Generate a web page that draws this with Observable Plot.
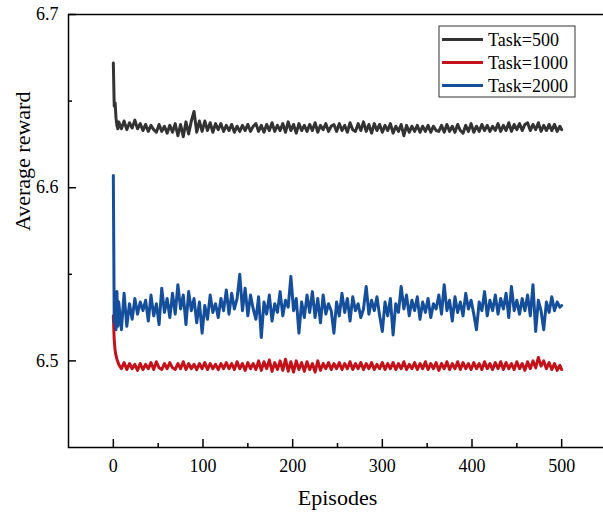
<!DOCTYPE html>
<html>
<head>
<meta charset="utf-8">
<script src="https://cdn.jsdelivr.net/npm/d3@7"></script>
<script src="https://cdn.jsdelivr.net/npm/@observablehq/plot@0.6"></script>
<style>
  html, body { margin: 0; padding: 0; background: #fff; overflow: hidden; }
  #chart svg { max-width: none !important; }
</style>
</head>
<body>
<div id="chart"></div>
<script>
// Training episodes at which the average reward was logged
const episodes = [0,1,2,3,4,5,6,
  9,12,15,18,21,24,27,30,33,36,39,42,45,48,51,54,57,60,63,66,69,72,75,78,81,84,87,90,93,96,
  99,102,105,108,111,114,117,120,123,126,129,132,135,138,141,144,147,150,153,156,159,162,165,168,
  171,174,177,180,183,186,189,192,195,198,201,204,207,210,213,216,219,222,225,228,231,234,237,240,
  243,246,249,252,255,258,261,264,267,270,273,276,279,282,285,288,291,294,297,300,303,306,309,312,
  315,318,321,324,327,330,333,336,339,342,345,348,351,354,357,360,363,366,369,372,375,378,381,384,
  387,390,393,396,399,402,405,408,411,414,417,420,423,426,429,432,435,438,441,444,447,450,453,456,
  459,462,465,468,471,474,477,480,483,486,489,492,495,498,500];

// Average reward per series
const task500 = [6.672,6.647,6.649,6.640,6.636,6.634,6.638,
  6.6340,6.6385,6.6335,6.6375,6.6345,6.6390,6.6340,6.6370,6.6330,6.6365,
  6.6325,6.6360,6.6335,6.6320,6.6365,6.6325,6.6355,6.6315,6.6360,6.6320,
  6.6370,6.6300,6.6365,6.6295,6.6380,6.6310,6.6385,6.6440,6.6320,6.6385,
  6.6325,6.6385,6.6330,6.6375,6.6320,6.6370,6.6335,6.6370,6.6325,6.6360,
  6.6330,6.6365,6.6320,6.6355,6.6325,6.6360,6.6330,6.6365,6.6325,6.6355,
  6.6370,6.6325,6.6360,6.6320,6.6365,6.6330,6.6375,6.6325,6.6360,6.6330,
  6.6370,6.6320,6.6380,6.6330,6.6365,6.6315,6.6370,6.6330,6.6360,6.6325,
  6.6365,6.6330,6.6375,6.6320,6.6360,6.6335,6.6370,6.6325,6.6355,6.6365,
  6.6325,6.6370,6.6330,6.6360,6.6320,6.6375,6.6335,6.6325,6.6370,6.6330,
  6.6380,6.6325,6.6365,6.6315,6.6370,6.6330,6.6365,6.6320,6.6360,6.6330,
  6.6370,6.6315,6.6355,6.6325,6.6365,6.6300,6.6360,6.6320,6.6355,6.6325,
  6.6360,6.6320,6.6355,6.6325,6.6360,6.6320,6.6355,6.6330,6.6325,6.6360,
  6.6320,6.6365,6.6325,6.6355,6.6320,6.6365,6.6330,6.6315,6.6360,6.6325,
  6.6370,6.6320,6.6355,6.6325,6.6365,6.6330,6.6360,6.6325,6.6355,6.6330,
  6.6370,6.6325,6.6360,6.6330,6.6375,6.6325,6.6365,6.6335,6.6370,6.6330,
  6.6365,6.6375,6.6330,6.6365,6.6335,6.6375,6.6325,6.6360,6.6330,6.6365,
  6.6330,6.6365,6.6325,6.6355,6.6335];

const task1000 = [6.526,6.512,6.506,6.503,6.501,6.4995,6.498,
  6.4955,6.4990,6.4950,6.4985,6.4955,6.4980,6.4945,6.4985,6.4950,6.4980,
  6.4955,6.4990,6.4950,6.4995,6.4960,6.4950,6.4985,6.4955,6.4990,6.4960,
  6.4950,6.4985,6.4955,6.4995,6.4950,6.4985,6.4955,6.4980,6.4950,6.4985,
  6.4955,6.4990,6.4950,6.4985,6.4955,6.4980,6.4950,6.4985,6.4955,6.4990,
  6.4955,6.4985,6.4950,6.4995,6.4955,6.4985,6.4945,6.4990,6.4955,6.4985,
  6.4950,6.5000,6.4945,6.4995,6.4955,6.5005,6.4940,6.4990,6.4950,6.5000,
  6.4945,6.5010,6.4940,6.4995,6.4935,6.5000,6.4950,6.4990,6.4940,6.4995,
  6.4950,6.4985,6.4935,6.5000,6.4945,6.4985,6.4955,6.4990,6.4950,6.4985,
  6.4955,6.4990,6.4950,6.4985,6.4955,6.4995,6.4950,6.4985,6.4955,6.4990,
  6.4950,6.4985,6.4955,6.4990,6.4950,6.4980,6.4955,6.4990,6.4950,6.4985,
  6.4955,6.4990,6.4950,6.4985,6.4955,6.4995,6.4950,6.4980,6.4955,6.4990,
  6.4950,6.4985,6.4955,6.4995,6.4950,6.4985,6.4955,6.4990,6.4945,6.4985,
  6.4955,6.4995,6.4950,6.4985,6.4955,6.4995,6.4950,6.4990,6.4955,6.4985,
  6.4950,6.4990,6.4955,6.4985,6.4950,6.4995,6.4955,6.4985,6.4950,6.4990,
  6.4955,6.4995,6.4950,6.4990,6.4955,6.4985,6.4950,6.4995,6.4955,6.4985,
  6.4945,6.4995,6.4955,6.5000,6.4960,6.5020,6.4970,6.5000,6.4955,6.4990,
  6.4950,6.4985,6.4945,6.4975,6.4950];

const task2000 = [6.607,6.522,6.538,6.518,6.540,6.520,6.534,
  6.5180,6.5390,6.5200,6.5330,6.5240,6.5360,6.5270,6.5340,6.5290,6.5350,
  6.5230,6.5380,6.5260,6.5330,6.5210,6.5420,6.5280,6.5360,6.5250,6.5390,
  6.5270,6.5440,6.5300,6.5380,6.5210,6.5400,6.5290,6.5360,6.5220,6.5340,
  6.5160,6.5320,6.5240,6.5380,6.5280,6.5330,6.5250,6.5360,6.5290,6.5410,
  6.5270,6.5390,6.5300,6.5360,6.5500,6.5290,6.5420,6.5260,6.5380,6.5300,
  6.5240,6.5370,6.5135,6.5340,6.5270,6.5380,6.5230,6.5330,6.5280,6.5400,
  6.5260,6.5350,6.5310,6.5488,6.5290,6.5360,6.5160,6.5340,6.5250,6.5380,
  6.5280,6.5400,6.5250,6.5360,6.5220,6.5380,6.5270,6.5330,6.5290,6.5160,
  6.5340,6.5260,6.5390,6.5280,6.5360,6.5230,6.5370,6.5290,6.5330,6.5250,
  6.5300,6.5430,6.5270,6.5350,6.5290,6.5370,6.5260,6.5170,6.5340,6.5260,
  6.5360,6.5150,6.5330,6.5280,6.5430,6.5300,6.5380,6.5260,6.5350,6.5290,
  6.5370,6.5240,6.5340,6.5280,6.5360,6.5250,6.5330,6.5300,6.5380,6.5270,
  6.5440,6.5290,6.5350,6.5230,6.5370,6.5280,6.5340,6.5260,6.5390,6.5300,
  6.5350,6.5270,6.5180,6.5340,6.5290,6.5400,6.5260,6.5350,6.5290,6.5380,
  6.5270,6.5360,6.5300,6.5390,6.5250,6.5430,6.5290,6.5350,6.5270,6.5360,
  6.5290,6.5380,6.5260,6.5440,6.5170,6.5350,6.5290,6.5180,6.5340,6.5280,
  6.5370,6.5290,6.5340,6.5310,6.5320];

const seriesNames = ["Task=500", "Task=1000", "Task=2000"];
const seriesColors = ["#333333", "#c3121a", "#154f9c"];

// Axis ticks
const xMajor = [0, 100, 200, 300, 400, 500];
const xMinor = [50, 150, 250, 350, 450];
const yMajor = [6.5, 6.6, 6.7];
const yMinor = [6.55, 6.65];

// Long-format table for the line mark
const rows = [];
[task500, task1000, task2000].forEach((vals, s) => {
  vals.forEach((v, i) => rows.push({episode: episodes[i], reward: v, task: seriesNames[s]}));
});

const W = 610, H = 514;
const mL = 68, mT = 14, mR = 4, mB = 67;
const innerW = W - mL - mR, innerH = H - mT - mB;
const font = "'Liberation Serif', 'Times New Roman', serif";

const chart = Plot.plot({
  width: W,
  height: H,
  marginLeft: mL,
  marginTop: mT,
  marginRight: mR,
  marginBottom: mB,
  style: {fontFamily: font, fontSize: "18px", color: "#000", background: "#fff", overflow: "visible", maxWidth: "none"},
  x: {domain: [-50, 550]},
  y: {domain: [6.45, 6.7]},
  color: {domain: seriesNames, range: seriesColors},
  marks: [
    Plot.line(rows, {x: "episode", y: "reward", z: "task", stroke: "task", strokeWidth: 3, strokeLinejoin: "round"}),
    // inward ticks
    Plot.tickX(xMajor, {x: d => d, insetTop: innerH - 8, stroke: "#000", strokeWidth: 1.5}),
    Plot.tickX(xMinor, {x: d => d, insetTop: innerH - 4, stroke: "#000", strokeWidth: 1.5}),
    Plot.tickY(yMajor, {y: d => d, insetRight: innerW - 8, stroke: "#000", strokeWidth: 1.5}),
    Plot.tickY(yMinor, {y: d => d, insetRight: innerW - 4, stroke: "#000", strokeWidth: 1.5}),
    Plot.axisX(xMajor, {tickSize: 0, tickPadding: 12, label: null, fontSize: 18}),
    Plot.axisY(yMajor, {tickSize: 0, tickPadding: 10, label: null, fontSize: 18, tickFormat: d3.format(".1f")}),
    Plot.text(["Episodes"], {frameAnchor: "bottom", dy: 50, text: d => d, fontSize: 22, lineAnchor: "middle", fill: "#000"}),
    Plot.text(["Average reward"], {frameAnchor: "left", dx: -46, rotate: -90, text: d => d, fontSize: 22, lineAnchor: "middle", fill: "#000"}),
    Plot.frame({stroke: "#000", strokeWidth: 1.5})
  ]
});

document.getElementById("chart").appendChild(chart);

// Legend box in the upper-right corner of the plot area
const svg = d3.select(chart);
const lg = svg.append("g").attr("transform", `translate(${mL + innerW - 167},${mT + 12})`);
lg.append("rect")
  .attr("x", 0).attr("y", 0).attr("width", 136).attr("height", 71)
  .attr("fill", "#fff").attr("stroke", "#333").attr("stroke-width", 1);
seriesNames.forEach((name, i) => {
  const cy = 13.5 + i * 23;
  lg.append("line")
    .attr("x1", 3).attr("x2", 44).attr("y1", cy).attr("y2", cy)
    .attr("stroke", seriesColors[i]).attr("stroke-width", 3);
  lg.append("text")
    .attr("x", 49).attr("y", cy).attr("dy", "0.35em")
    .attr("text-anchor", "start")
    .attr("font-family", font).attr("font-size", 18).attr("fill", "#000")
    .text(name);
});
</script>
</body>
</html>
